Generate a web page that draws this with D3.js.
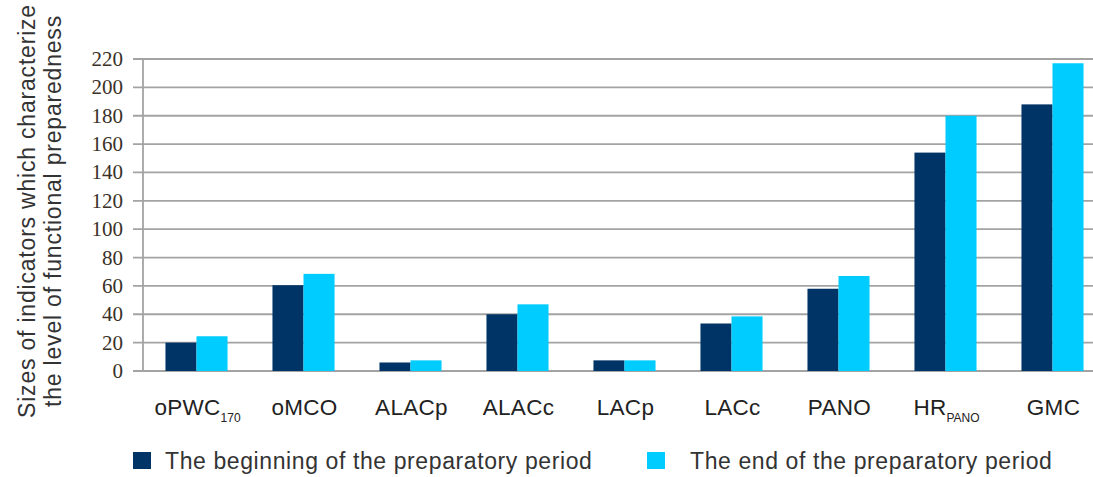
<!DOCTYPE html>
<html><head><meta charset="utf-8">
<script src="https://cdn.jsdelivr.net/npm/d3@7"></script>
<style>
html,body{margin:0;padding:0;background:#fff;}
svg{display:block;}
</style></head>
<body>
<svg id="chart" width="1093" height="477"></svg>
<script>
const categories = ["oPWC170","oMCO","ALACp","ALACc","LACp","LACc","PANO","HRPANO","GMC"];
const labelMain = ["oPWC","oMCO","ALACp","ALACc","LACp","LACc","PANO","HR","GMC"];
const labelSub = ["170","","","","","","","PANO",""];
const beginning = [20, 60.5, 6, 40, 7.5, 33.5, 58, 154, 188];
const endPeriod = [24.5, 68.5, 7.5, 47, 7.5, 38.5, 67, 180, 217];
const seriesNames = ["The beginning of the preparatory period","The end of the preparatory period"];
const yTicks = [0,20,40,60,80,100,120,140,160,180,200,220];
const yTitle = ["Sizes of indicators which characterize","the level of functional preparedness"];

const colors = ["#003466","#00ccff"];
const svg = d3.select("#chart");

const x = d3.scaleBand().domain(categories).range([143,1106]).paddingInner(0.42).paddingOuter(0.21);
const xs = d3.scaleBand().domain([0,1]).range([0,x.bandwidth()]);
const y = d3.scaleLinear().domain([0,220]).range([371,59]);

// gridlines
svg.append("g").selectAll("line").data(yTicks).join("line")
  .attr("x1",133).attr("x2",1093)
  .attr("y1",d=>y(d)).attr("y2",d=>y(d))
  .attr("stroke","#a3a3a3").attr("stroke-width",1.8);
// axis line
svg.append("line").attr("x1",143).attr("x2",143).attr("y1",y(220)).attr("y2",y(0))
  .attr("stroke","#a3a3a3").attr("stroke-width",1.8);

// y tick labels
svg.append("g").selectAll("text").data(yTicks).join("text")
  .attr("x",123).attr("y",d=>y(d)+7)
  .attr("text-anchor","end")
  .attr("font-family","'Liberation Serif','Times New Roman',serif")
  .attr("font-size",21).attr("fill","#3a3128")
  .text(d=>d);

// bars
const series = [beginning,endPeriod];
series.forEach((vals,si)=>{
  svg.append("g").selectAll("rect").data(vals).join("rect")
    .attr("x",(d,i)=>x(categories[i])+xs(si))
    .attr("width",xs.bandwidth())
    .attr("y",d=>y(d))
    .attr("height",d=>y(0)-y(d))
    .attr("fill",colors[si]);
});

// x labels
const xl = svg.append("g").selectAll("text").data(categories).join("text")
  .attr("x",d=>x(d)+x.bandwidth()/2 + 1)
  .attr("y",415)
  .attr("text-anchor","middle")
  .attr("font-family","'Liberation Sans',Arial,sans-serif")
  .attr("font-size",22.5).attr("letter-spacing",0.3).attr("fill","#222");
xl.each(function(d,i){
  const t = d3.select(this);
  t.append("tspan").text(labelMain[i]);
  if(labelSub[i]) t.append("tspan").attr("font-size",12).attr("letter-spacing",0).attr("dy",7).text(labelSub[i]);
});

// y title
const yt = svg.append("g").attr("transform","translate(35,211) rotate(-90)");
yt.selectAll("text").data(yTitle).join("text")
  .attr("x",0).attr("y",(d,i)=>i*26)
  .attr("text-anchor","middle")
  .attr("font-family","'Liberation Sans',Arial,sans-serif")
  .attr("font-size",23).attr("letter-spacing",0.8).attr("fill","#333")
  .text(d=>d);

// legend
const legX = [133,647];
const lg = svg.append("g");
seriesNames.forEach((n,i)=>{
  lg.append("rect").attr("x",legX[i]).attr("y",452).attr("width",18).attr("height",17).attr("fill",colors[i]);
  lg.append("text").attr("x",legX[i]+(i===0?32:43)).attr("y",469)
    .attr("font-family","'Liberation Sans',Arial,sans-serif")
    .attr("font-size",23).attr("letter-spacing",0.6).attr("fill","#333").text(n);
});
</script>
</body></html>
